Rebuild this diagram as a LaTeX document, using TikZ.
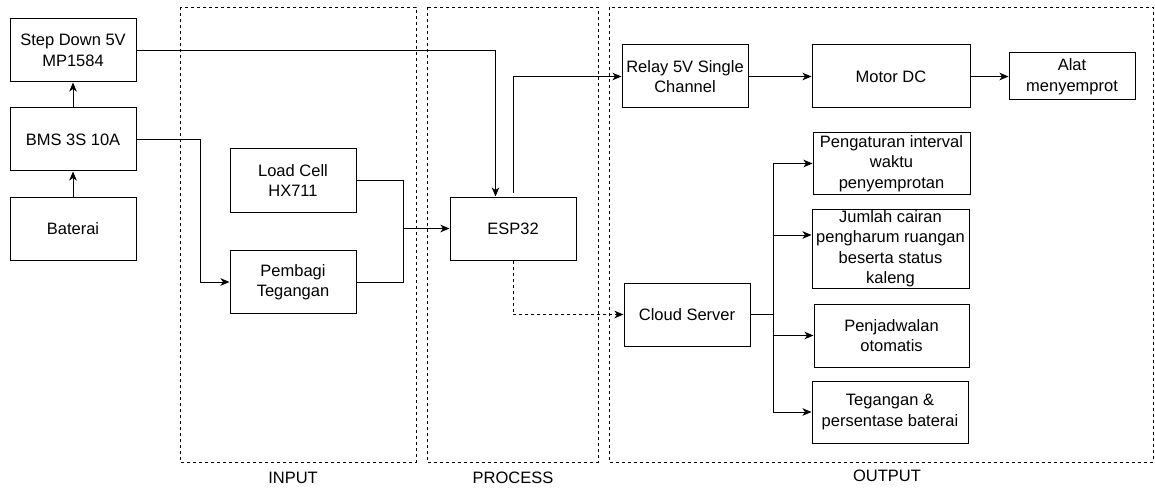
\documentclass[tikz,border=0pt]{standalone}
\usepackage{fontspec}
\setmainfont{Liberation Sans}
\usetikzlibrary{arrows.meta}

\begin{document}
\begin{tikzpicture}[x=1pt, y=-1pt, line width=1pt,
  blok/.style={draw, rectangle, minimum width=126pt, minimum height=63pt, inner sep=0pt, align=center, font=\fontsize{16.5}{20.5}\selectfont},
  bingkai/.style={draw, dash pattern=on 3pt off 3pt, line width=0.8pt},
  panah/.style={-{Stealth[length=9pt,width=7.5pt,inset=2.5pt]}},
  judul/.style={font=\fontsize{16.5}{20}\selectfont}]
\useasboundingbox (0,0) rectangle (1155,489);

%dashed frames

\draw [bingkai] (180,7) rectangle (416,462);
\draw [bingkai] (427,7) rectangle (598,462);
\draw [bingkai] (609,7) rectangle (1153,462);
\node [judul] (IN) at (293,478) {INPUT};
\node [judul] (PR) at (513,478) {PROCESS};
\node [judul] (OUT) at (887,476) {OUTPUT};

%power blocks

\node [blok] (SD) at (73,50.5) {Step Down 5V\\MP1584};
\node [blok] (BMS) at (73,139.5) {BMS 3S 10A};
\node [blok] (BAT) at (73,228.5) {Baterai};

%input and process

\node [blok] (LC) at (293,180.5) {Load Cell\\HX711};
\node [blok] (PT) at (293,282) {Pembagi\\Tegangan};
\node [blok] (ESP) at (513,228.5) {ESP32};

%output blocks

\node [blok] (RL) at (685,76.5) {Relay 5V Single\\Channel};
\node [blok, minimum width=158pt] (MD) at (891,76.5) {Motor DC};
\node [blok, minimum height=47pt] (AM) at (1072,76.5) {Alat\\menyemprot};
\node [blok] (CS) at (687,314.5) {Cloud Server};
\node [blok, minimum width=157pt, minimum height=61pt] (P1) at (891.5,163.5) {Pengaturan interval\\waktu\\penyemprotan};
\node [blok, minimum width=157pt, minimum height=79pt] (P2) at (890.5,248.5) {Jumlah cairan\\pengharum ruangan\\beserta status\\kaleng};
\node [blok, minimum width=155pt] (P3) at (891.5,335.5) {Penjadwalan\\otomatis};
\node [blok, minimum width=156pt, minimum height=62pt] (P4) at (890,412) {Tegangan \&\\persentase baterai};

%connectors

\coordinate (J) at ([xshift=47pt]LC.east |- ESP.west);
\coordinate (K) at ([xshift=23pt]CS.east);
\draw [panah] (BAT) -- (BMS);
\draw [panah] (BMS) -- (SD);
\draw [panah] (SD.east) -| ([xshift=-17.5pt]ESP.north);
\draw [panah] (BMS.east) -- ++(64,0) |- (PT.west);
\draw (LC.east) -| (J);
\draw (PT.east) -| (J);
\draw [panah] (J) -- (ESP.west);
\draw [panah] ([yshift=4pt]ESP.north) |- (RL.west);
\draw [panah, dash pattern=on 3pt off 3pt] (ESP.south) |- (CS.west);
\draw [panah] (RL) -- (MD);
\draw [panah] (MD) -- (AM);
\draw (CS.east) -- (K);
\draw [panah] (K) |- (P1.west);
\draw [panah] (K) |- ([yshift=13.5pt]P2.west);
\draw [panah] (K) |- (P3.west);
\draw [panah] (K) |- (P4.west);
\end{tikzpicture}
\end{document}
